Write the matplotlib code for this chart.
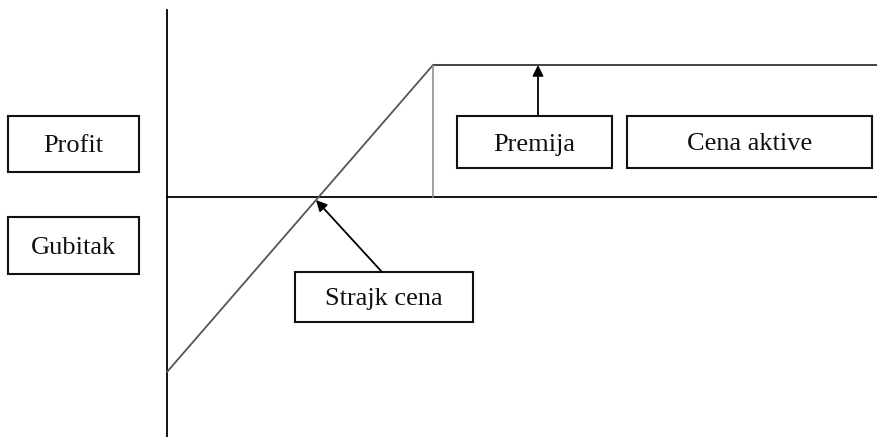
import matplotlib
matplotlib.use('Agg')
import matplotlib.pyplot as plt
from matplotlib.patches import Rectangle

# payoff diagram data (origin = axis crossing, x = asset price, y = profit)
asset_price = [0, 266, 710]
payoff = [-175, 132, 132]
strike = 266
premium = 132
break_even = (149, -3)

# label boxes: (text, x0, x1, y0, y1)
box_labels = ['Profit', 'Gubitak', 'Premija', 'Cena aktive', 'Strajk cena']
box_x0 = [-159, -159, 290, 460, 128]
box_x1 = [-28, -28, 445, 705, 306]
box_y0 = [25, -77, 29, 29, -125]
box_y1 = [81, -20, 81, 81, -75]

fig = plt.figure(figsize=(8.77, 4.37), dpi=100)
ax = fig.add_axes([0, 0, 1, 1])
ax.set_xlim(-167, 710)
ax.set_ylim(-240, 197)
ax.axis('off')

# axes
ax.plot([0, 0], [-240, 187], color='black', lw=1.3)
ax.plot([0, 710], [0, 0], color='black', lw=1.3)

# payoff line
ax.plot(asset_price[:2], payoff[:2], color='#555555', lw=1.3)
ax.plot(asset_price[1:], payoff[1:], color='#333333', lw=1.3)
ax.plot([strike, strike], [0, premium], color='#888888', lw=1.1)

for lab, x0, x1, y0, y1 in zip(box_labels, box_x0, box_x1, box_y0, box_y1):
    ax.add_patch(Rectangle((x0, y0), x1 - x0, y1 - y0, fill=False,
                           edgecolor='#111111', lw=1.5))
    ax.text((x0 + x1) / 2, (y0 + y1) / 2, lab, ha='center', va='center_baseline',
            family='Liberation Serif', fontsize=19, color='#111111')

# arrows
ax.annotate('', xy=(371, premium), xytext=(371, box_y1[2]),
            arrowprops=dict(arrowstyle='-|>', color='black', lw=1.3,
                            mutation_scale=16, shrinkA=0, shrinkB=0))
ax.annotate('', xy=break_even, xytext=(215, box_y1[4]),
            arrowprops=dict(arrowstyle='-|>', color='black', lw=1.3,
                            mutation_scale=16, shrinkA=0, shrinkB=0))

fig.savefig('out.png', dpi=100)
